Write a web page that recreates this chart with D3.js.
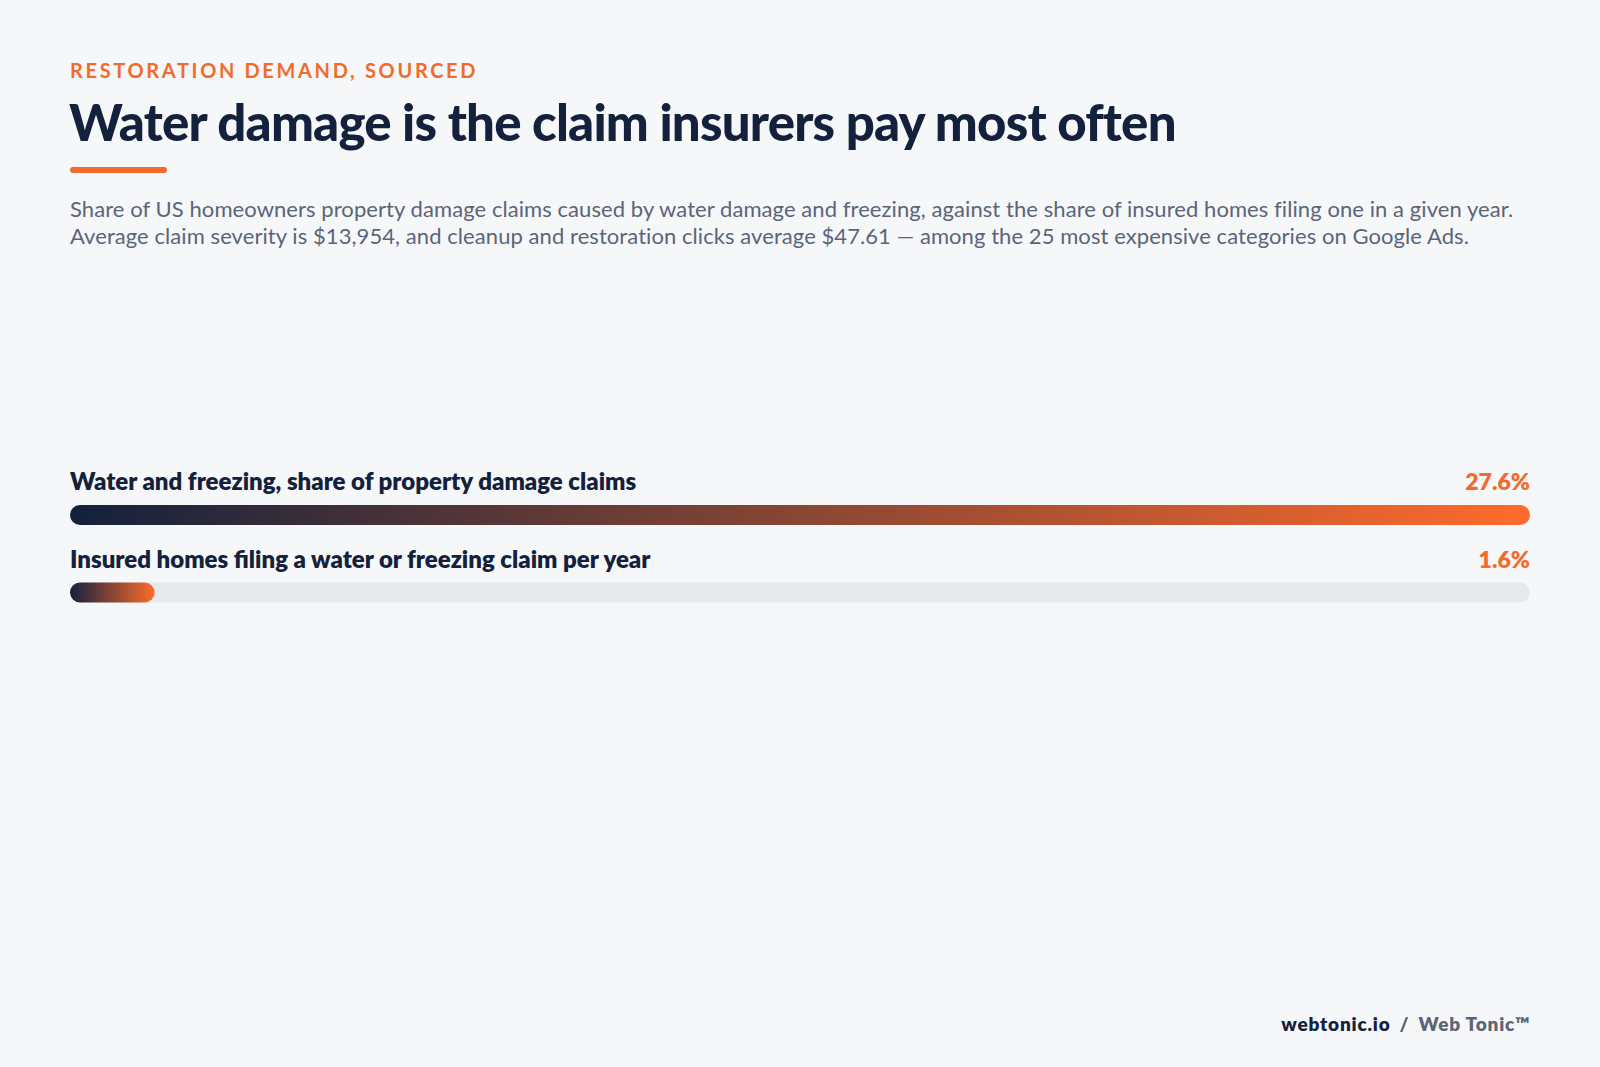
<!DOCTYPE html>
<html>
<head>
<meta charset="utf-8">
<script src="https://cdn.jsdelivr.net/npm/d3@7"></script>
<style>
  html, body { margin: 0; padding: 0; background: #f6f7f9; }
  svg { display: block; font-family: Lato, "Open Sans", sans-serif; }
</style>
</head>
<body>
<svg id="chart" width="1600" height="1067"></svg>
<script>
const eyebrow = "RESTORATION DEMAND, SOURCED";
const title = "Water damage is the claim insurers pay most often";
const subtitleLines = [
  "Share of US homeowners property damage claims caused by water damage and freezing, against the share of insured homes filing one in a given year.",
  "Average claim severity is $13,954, and cleanup and restoration clicks average $47.61 \u2014 among the 25 most expensive categories on Google Ads."
];
const categories = [
  "Water and freezing, share of property damage claims",
  "Insured homes filing a water or freezing claim per year"
];
const values = [27.6, 1.6];
const valueLabels = ["27.6%", "1.6%"];
const footerBrand = "webtonic.io";
const footerName = "Web Tonic\u2122";

const W = 1600, H = 1067;
const left = 70, right = 1530;
const navy = "#13213c", orange = "#ff6b2c", gray = "#5b6578", track = "#e6e9ee";

const svg = d3.select("#chart");
svg.append("rect").attr("width", W).attr("height", H).attr("fill", "#f6f7f9");

svg.append("text").attr("x", left).attr("y", 78)
  .attr("fill", "#f26b2c").attr("font-size", 20).attr("font-weight", 700)
  .attr("letter-spacing", "2.65px").text(eyebrow);

svg.append("text").attr("x", left - 1).attr("y", 141)
  .attr("fill", navy).attr("font-size", 51).attr("font-weight", 900)
  .attr("letter-spacing", "-0.8px").text(title);

svg.append("rect").attr("x", left).attr("y", 167).attr("width", 97).attr("height", 6)
  .attr("rx", 3).attr("fill", "#f26b2c");

svg.append("g").selectAll("text").data(subtitleLines).join("text")
  .attr("x", left).attr("y", (d, i) => 216.5 + i * 27.6)
  .attr("fill", gray).attr("font-size", 22).attr("font-weight", 400)
  .attr("letter-spacing", "0.07px")
  .text(d => d);

// bars
const x = d3.scaleLinear().domain([0, d3.max(values)]).range([0, right - left]);
const y = d3.scaleBand().domain(categories).range([505, 505 + 77.5 * 2]).paddingInner(0).paddingOuter(0);
const barH = 20;

const defs = svg.append("defs");
categories.forEach((c, i) => {
  const g = defs.append("linearGradient").attr("id", "grad" + i)
    .attr("x1", "0%").attr("x2", "100%").attr("y1", "0%").attr("y2", "0%");
  g.append("stop").attr("offset", "0%").attr("stop-color", navy);
  g.append("stop").attr("offset", "100%").attr("stop-color", orange);
});

const rows = svg.append("g").selectAll("g").data(categories).join("g")
  .attr("transform", d => `translate(${left},${y(d)})`);

rows.append("rect").attr("x", 0).attr("y", 0)
  .attr("width", x(d3.max(values))).attr("height", barH).attr("rx", barH / 2)
  .attr("fill", track);

rows.append("rect").attr("x", 0).attr("y", 0)
  .attr("width", (d, i) => x(values[i])).attr("height", barH).attr("rx", barH / 2)
  .attr("fill", (d, i) => `url(#grad${i})`);

rows.append("text").attr("x", 0).attr("y", -15)
  .attr("fill", navy).attr("font-size", 24).attr("font-weight", 800)
  .attr("letter-spacing", "0px").text(d => d);

rows.append("text").attr("x", right - left).attr("y", -15)
  .attr("text-anchor", "end")
  .attr("fill", "#f26b2c").attr("font-size", 23).attr("font-weight", 800)
  .text((d, i) => valueLabels[i]);

// footer
const ft = svg.append("text").attr("x", right).attr("y", 1031)
  .attr("text-anchor", "end").attr("font-size", 19).attr("font-weight", 800)
  .attr("letter-spacing", "0.8px");
ft.append("tspan").attr("fill", navy).text(footerBrand);
ft.append("tspan").attr("fill", "#5b6578").attr("dx", 9).text("/");
ft.append("tspan").attr("fill", "#5b6578").attr("dx", 9).text(footerName);
</script>
</body>
</html>
